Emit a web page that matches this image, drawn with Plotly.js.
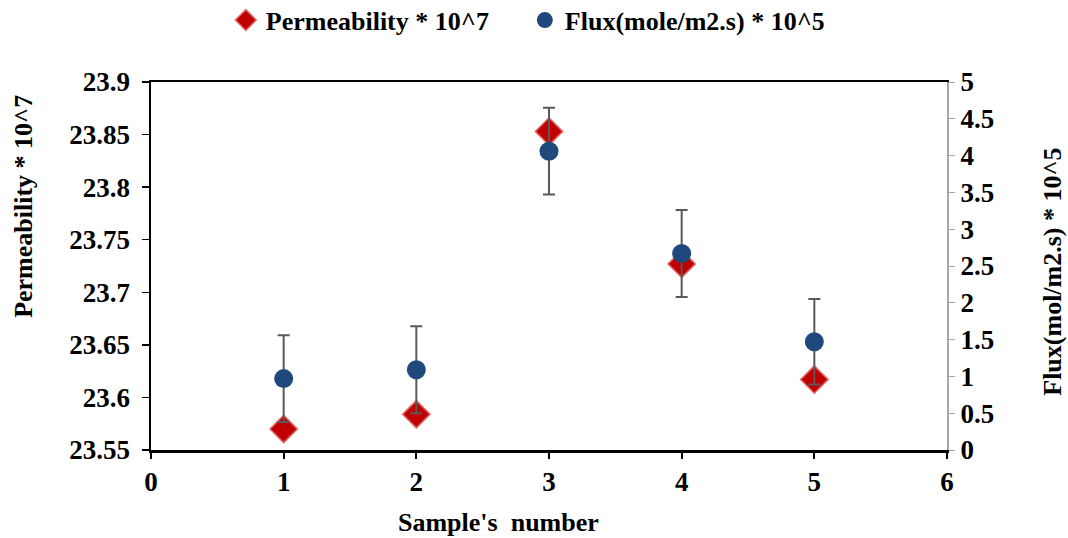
<!DOCTYPE html>
<html>
<head>
<meta charset="utf-8">
<script src="https://cdn.plot.ly/plotly-3.0.1.min.js"></script>
<style>html,body{margin:0;padding:0;background:#fff;}#chart{width:1068px;height:538px;}</style>
</head>
<body>
<div id="chart"></div>
<script>
const samples = [1, 2, 3, 4, 5];
const permeability = [23.570, 23.584, 23.853, 23.727, 23.617];
const flux = [0.97, 1.09, 4.06, 2.67, 1.47];
const fluxError = [0.59, 0.59, 0.59, 0.59, 0.58];

const xTicks = [0, 1, 2, 3, 4, 5, 6];
const yTicks = [23.55, 23.6, 23.65, 23.7, 23.75, 23.8, 23.85, 23.9];
const yTickLabels = ['23.55', '23.6', '23.65', '23.7', '23.75', '23.8', '23.85', '23.9'];
const y2Ticks = [0, 0.5, 1, 1.5, 2, 2.5, 3, 3.5, 4, 4.5, 5];
const y2TickLabels = ['0', '0.5', '1', '1.5', '2', '2.5', '3', '3.5', '4', '4.5', '5'];

const FONT = 'Liberation Serif, Times New Roman, serif';
const tickFont = {family: FONT, size: 27, color: '#000', weight: 700};
const titleFont = {family: FONT, size: 26, color: '#000', weight: 700};

const traces = [
  {
    x: samples, y: permeability, type: 'scatter', mode: 'markers',
    name: 'Permeability * 10^7', yaxis: 'y',
    marker: {symbol: 'diamond', size: 21, color: '#C00000', line: {color: '#E06666', width: 1.5}}
  },
  {
    x: samples, y: flux, type: 'scatter', mode: 'markers',
    name: 'Flux(mole/m2.s) * 10^5', yaxis: 'y2',
    marker: {symbol: 'circle', size: 19, color: '#1F497D', line: {width: 0}},
    error_y: {type: 'data', array: fluxError, visible: true, color: '#595959', thickness: 2, width: 6}
  }
];

const layout = {
  width: 1068, height: 538,
  margin: {l: 151, r: 121, t: 82, b: 88, autoexpand: false},
  paper_bgcolor: '#fff', plot_bgcolor: '#fff',
  font: {family: FONT, color: '#000'},
  showlegend: true,
  legend: {
    orientation: 'h', x: 0.094, xanchor: 'left', y: 1.168, yanchor: 'middle',
    entrywidth: 254, entrywidthmode: 'pixels',
    font: titleFont, bgcolor: 'rgba(0,0,0,0)'
  },
  xaxis: {
    range: [0, 6], tickvals: xTicks, ticktext: xTicks.map(String),
    showgrid: false, zeroline: false, showline: true, linecolor: '#000', linewidth: 2.5,
    mirror: true, ticks: 'outside', ticklen: 6, tickwidth: 2, tickcolor: '#000',
    tickfont: tickFont, fixedrange: true
  },
  yaxis: {
    range: [23.55, 23.9], tickvals: yTicks, ticktext: yTickLabels,
    showgrid: false, zeroline: false, showline: true, linecolor: '#000', linewidth: 2.5,
    ticks: 'outside', ticklen: 7, tickwidth: 1.5, tickcolor: '#000',
    tickfont: tickFont, ticklabelstandoff: 6
  },
  yaxis2: {
    range: [0, 5], tickvals: y2Ticks, ticktext: y2TickLabels,
    overlaying: 'y', side: 'right', tickprefix: '\u00a0\u00a0',
    showgrid: false, zeroline: false, showline: true, linecolor: '#A6A6A6', linewidth: 2,
    ticks: 'outside', ticklen: 6, tickwidth: 1, tickcolor: '#A6A6A6',
    tickfont: tickFont
  },
  annotations: [
    {text: 'Permeability * 10^7', xref: 'paper', yref: 'paper', x: -0.161, y: 0.663,
     textangle: -90, showarrow: false, xanchor: 'center', yanchor: 'middle', font: titleFont},
    {text: 'Flux(mol/m2.s) * 10^5', xref: 'paper', yref: 'paper', x: 1.133, y: 0.484,
     textangle: -90, showarrow: false, xanchor: 'center', yanchor: 'middle', font: titleFont},
    {text: "Sample's&nbsp; number", xref: 'paper', yref: 'paper', x: 0.436, y: -0.196,
     showarrow: false, xanchor: 'center', yanchor: 'middle', font: titleFont}
  ]
};

Plotly.newPlot('chart', traces, layout, {displayModeBar: false, staticPlot: true});
</script>
</body>
</html>
